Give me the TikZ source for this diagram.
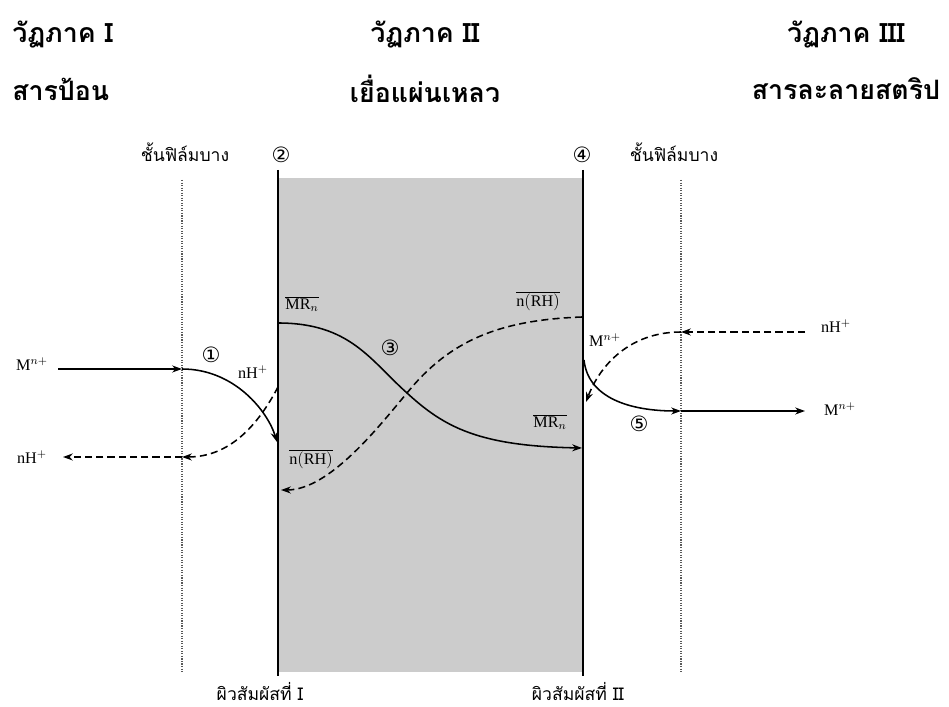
\documentclass[tikz,border=0pt]{standalone}
\usepackage{fontspec}
\usepackage{tikz}
\usetikzlibrary{arrows.meta, positioning}
\setmainfont{Liberation Serif}
\newfontfamily\thaifont[Script=Thai]{Loma}
\newfontfamily\symfont{DejaVu Sans}
\definecolor{filmgray}{RGB}{204, 204, 204}

\begin{document}
\begin{tikzpicture}[x=0.025cm, y=-0.025cm,
    title/.style={font=\thaifont\bfseries\fontsize{19}{22}\selectfont, inner sep=0pt},
    side/.style={font=\thaifont\fontsize{12.5}{15}\selectfont, inner sep=0pt},
    lbl/.style={font=\fontsize{11.5}{13}\selectfont, inner sep=1pt},
    num/.style={font=\symfont\fontsize{15}{17}\selectfont, inner sep=0pt},
    flow/.style={line width=1.1pt, -{Stealth[length=7pt, width=5pt]}},
    back/.style={flow, dash pattern=on 5pt off 3pt}
]
    \useasboundingbox (0,0) rectangle (949,707);

    % membrane and films
    \fill[filmgray] (278,178) rectangle (583,672);
    \draw[line width=1.6pt] (278,170) -- (278,676);
    \draw[line width=1.6pt] (583,170) -- (583,676);
    \draw[gray!70!black, densely dotted, thick] (182,180) -- (182,672);
    \draw[gray!70!black, densely dotted, thick] (681,180) -- (681,672);

    % titles
    \node[title, anchor=west] (ph1) at (12,35) {วัฏภาค I};
    \node[title, anchor=west] (feed) at (12,89) {สารป้อน};
    \node[title] (ph2) at (425,35) {วัฏภาค II};
    \node[title] (liq) at (425,89) {เยื่อแผ่นเหลว};
    \node[title] (ph3) at (846,35) {วัฏภาค III};
    \node[title] (strip) at (846,89) {สารละลายสตริป};
    \node[side] (film1) at (185,152) {ชั้นฟิล์มบาง};
    \node[side] (film2) at (674,152) {ชั้นฟิล์มบาง};
    \node[side] (face1) at (260,692) {ผิวสัมผัสที่ I};
    \node[side] (face2) at (578,692) {ผิวสัมผัสที่ II};
    \node[num] (n2) at (281,155) {②};
    \node[num] (n4) at (582,155) {④};

    % labels
    \node[lbl] (mfeed) at (32,364) {M$^{n+}$};
    \node[lbl] (hfeed) at (32,457) {nH$^{+}$};
    \node[num] (n1) at (211,355) {①};
    \node[lbl] (h1) at (253,372) {nH$^{+}$};
    \node[lbl] (mr1) at (302,304) {$\overline{\mathrm{MR}_n}$};
    \node[num] (n3) at (390,348) {③};
    \node[lbl] (rh2) at (538,301) {$\overline{\mathrm{n(RH)}}$};
    \node[lbl] (mr2) at (550,422) {$\overline{\mathrm{MR}_n}$};
    \node[lbl] (rh1) at (311,459) {$\overline{\mathrm{n(RH)}}$};
    \node[lbl] (m2) at (605,340) {M$^{n+}$};
    \node[num] (n5) at (639,424) {⑤};
    \node[lbl] (hstrip) at (836,326) {nH$^{+}$};
    \node[lbl] (mstrip) at (840,409) {M$^{n+}$};

    % connector ends
    \coordinate (feedin) at (58,369);
    \coordinate (film1m) at (182,369);
    \coordinate (face1m) at (277,442);
    \coordinate (face1h) at (278,387);
    \coordinate (film1h) at (182,457);
    \coordinate (feedout) at (63,457);
    \coordinate (mrstart) at (278,323);
    \coordinate (cross) at (407,393);
    \coordinate (mrend) at (582,448);
    \coordinate (rhstart) at (582,317);
    \coordinate (rhend) at (281,490);
    \coordinate (face2m) at (584,360);
    \coordinate (film2m) at (681,411);
    \coordinate (stripout) at (805,411);
    \coordinate (stripin) at (805,332);
    \coordinate (film2h) at (681,332);
    \coordinate (face2h) at (586,402);

    % metal ion path
    \draw[flow] (feedin) -- (film1m);
    \draw[flow] (film1m) .. controls (235,369) and (268,412) .. (face1m);
    \draw[flow] (mrstart) .. controls (350,323) and (370,360) .. (cross)
                          .. controls (445,428) and (480,446) .. (mrend);
    \draw[flow] (face2m) .. controls (588,398) and (630,411) .. (film2m);
    \draw[flow] (film2m) -- (stripout);

    % proton path
    \draw[back] (stripin) -- (film2h);
    \draw[back] (film2h) .. controls (630,332) and (600,365) .. (face2h);
    \draw[back] (rhstart) .. controls (500,320) and (450,340) .. (cross)
                          .. controls (380,425) and (330,490) .. (rhend);
    \draw[back] (face1h) .. controls (258,425) and (230,457) .. (film1h);
    \draw[back] (film1h) -- (feedout);
\end{tikzpicture}
\end{document}
